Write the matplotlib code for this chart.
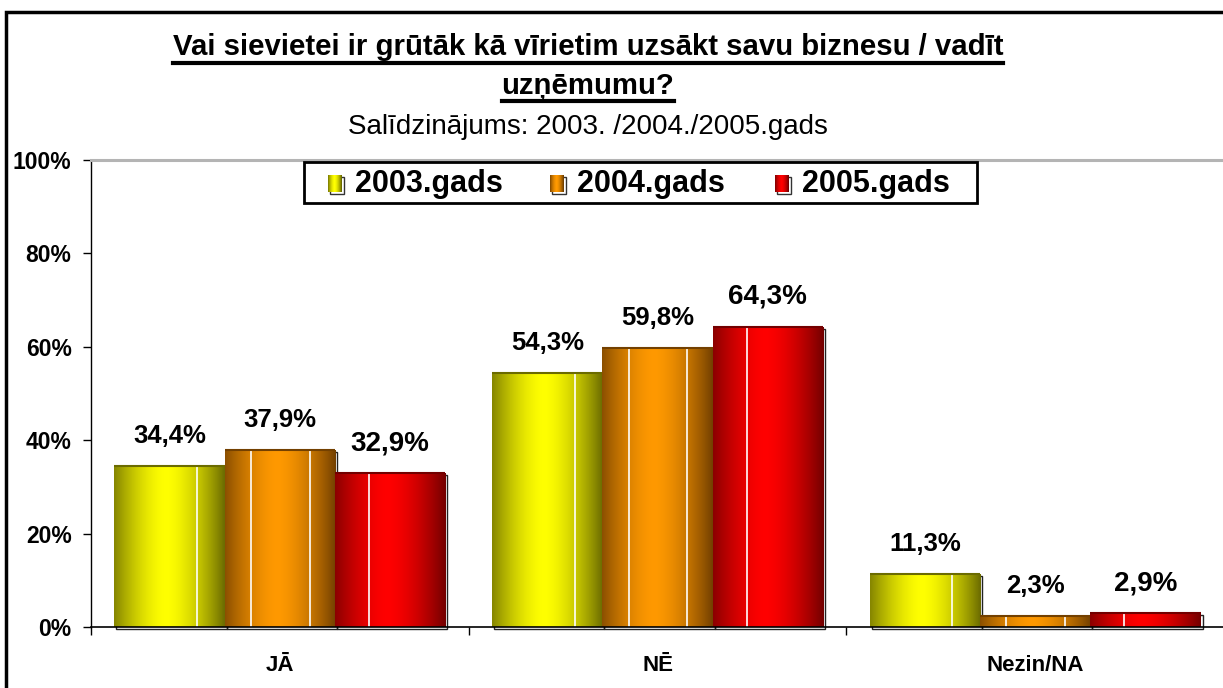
import numpy as np
import matplotlib
matplotlib.use("Agg")
import matplotlib.pyplot as plt
import matplotlib.transforms as mtransforms
from matplotlib.patches import Rectangle
from matplotlib.lines import Line2D

plt.rcParams['font.family'] = ['Liberation Sans', 'DejaVu Sans']

categories = ["JĀ", "NĒ", "Nezin/NA"]
series_names = ["2003.gads", "2004.gads", "2005.gads"]
values_2003 = [34.4, 54.3, 11.3]
values_2004 = [37.9, 59.8, 2.3]
values_2005 = [32.9, 64.3, 2.9]
series_values = [values_2003, values_2004, values_2005]
value_labels = [["34,4%", "54,3%", "11,3%"],
                ["37,9%", "59,8%", "2,3%"],
                ["32,9%", "64,3%", "2,9%"]]
ytick_vals = [0, 20, 40, 60, 80, 100]
ytick_labels = ["0%", "20%", "40%", "60%", "80%", "100%"]

title_line1 = "Vai sievietei ir grūtāk kā vīrietim uzsākt savu biznesu / vadīt"
title_line2 = "uzņēmumu?"
subtitle = "Salīdzinājums: 2003. /2004./2005.gads"

bright = [(1.0, 1.0, 0.0), (1.0, 0.6, 0.0), (1.0, 0.0, 0.0)]
dark = [(0.42, 0.42, 0.0), (0.45, 0.25, 0.0), (0.45, 0.0, 0.0)]
white_lines = [[0.75], [0.24, 0.77], [0.31]]

W, H = 1223, 688
fig = plt.figure(figsize=(W / 100, H / 100), dpi=100)
ax = fig.add_axes([91 / W, (H - 627) / H, (1224 - 91) / W, (627 - 160) / H])

n_cat = len(categories)
x = np.arange(n_cat)
bw = 0.292
offsets = [-bw, 0.0, bw]

def grad_colors(c_dark, c_bright, n=200):
    t = np.linspace(0, 1, n)
    f = 1 - (np.abs(t - 0.47) / 0.53) ** 1.6
    f = np.clip(f, 0, 1)
    cd = np.array(c_dark)
    cb = np.array(c_bright)
    return cd[None, :] + (cb - cd)[None, :] * f[:, None]

shadow_tr = mtransforms.offset_copy(ax.transData, fig=fig, x=2, y=-2, units='dots')

for s in range(3):
    vals = np.array(series_values[s]) / 100.0
    ax.bar(x + offsets[s], vals, bw, fill=False, edgecolor='#222222', linewidth=1.0,
           transform=shadow_tr, zorder=2, clip_on=False)
    bars = ax.bar(x + offsets[s], vals, bw, color=bright[s], linewidth=0, zorder=3)
    img = grad_colors(dark[s], bright[s])[None, :, :]
    for b in bars:
        x0, y0 = b.get_x(), b.get_y()
        w, h = b.get_width(), b.get_height()
        im = ax.imshow(img, extent=[x0, x0 + w, y0, y0 + h], aspect='auto',
                       zorder=4, interpolation='bilinear')
        im.set_clip_path(b)
        for wl in white_lines[s]:
            ax.plot([x0 + wl * w, x0 + wl * w], [y0, y0 + h], color='white',
                    linewidth=1.2, zorder=5, solid_capstyle='butt')
        ax.plot([x0, x0 + w], [y0 + h, y0 + h], color=dark[s], linewidth=1.5, zorder=5,
                solid_capstyle='butt')
    fs = 20 if s == 2 else 18.5
    for i, b in enumerate(bars):
        ax.annotate(value_labels[s][i], (b.get_x() + b.get_width() / 2, b.get_height()),
                    xytext=(0, 30), textcoords='offset pixels', ha='center', va='center',
                    fontsize=fs, fontweight='bold', zorder=6)

ax.set_xlim(-0.5, n_cat - 0.5)
ax.set_ylim(0, 1)

ax.set_yticks(np.array(ytick_vals) / 100.0)
ax.set_yticklabels(ytick_labels, fontsize=16.5, fontweight='bold')
ax.tick_params(axis='y', direction='out', length=6, width=1, pad=8)

ax.set_xticks(x)
ax.set_xticklabels(categories, fontsize=16, fontweight='bold')
ax.tick_params(axis='x', which='major', length=0, pad=20)
ax.set_xticks(np.arange(n_cat + 1) - 0.5, minor=True)
ax.tick_params(axis='x', which='minor', direction='out', length=6, width=1)

ax.spines['right'].set_visible(False)
ax.spines['top'].set_color('#b4b4b4')
ax.spines['top'].set_linewidth(2.2)
ax.spines['left'].set_linewidth(1.0)
ax.spines['bottom'].set_linewidth(1.2)
ax.spines['bottom'].set_zorder(7)

def fx(px):
    return px / W

def fy(py):
    return 1 - py / H

# legend box
fig.add_artist(Rectangle((fx(304), fy(203)), fx(977) - fx(304), fy(162) - fy(203),
                         transform=fig.transFigure, facecolor='white', edgecolor='black',
                         linewidth=2.0, zorder=20))
leg_x = [328, 550, 775]
for i in range(3):
    mx0, mw, my_top, mh = leg_x[i], 14, 175, 17
    fig.add_artist(Rectangle((fx(mx0 + 2), fy(my_top + mh + 2)), fx(mw), fy(0) - fy(mh),
                             transform=fig.transFigure, fill=False, edgecolor='#333333',
                             linewidth=1.0, zorder=21))
    cols = grad_colors(dark[i], bright[i], n=mw)
    for k in range(mw):
        fig.add_artist(Rectangle((fx(mx0 + k), fy(my_top + mh)), fx(1.2), fy(0) - fy(mh),
                                 transform=fig.transFigure, facecolor=cols[k],
                                 linewidth=0, zorder=22))
    fig.text(fx(mx0 + 27), fy(184), series_names[i], ha='left', va='center',
             fontsize=22, fontweight='bold', zorder=23)

# titles
cx = 588 / W
t1 = fig.text(cx, fy(47), title_line1, ha='center', va='center', fontsize=21.2,
              fontweight='bold')
t2 = fig.text(cx, fy(86), title_line2, ha='center', va='center', fontsize=21.2,
              fontweight='bold')
t3 = fig.text(cx, fy(127), subtitle, ha='center', va='center', fontsize=20)

# outer frame
fig.add_artist(Rectangle((6 / W, -0.05), 1.1, 1 - 12 / H + 0.05, transform=fig.transFigure,
                         fill=False, edgecolor='black', linewidth=2.5))

fig.canvas.draw()
renderer = fig.canvas.get_renderer()
for t, uy in [(t1, 63), (t2, 101)]:
    bb = t.get_window_extent(renderer)
    fig.add_artist(Line2D([bb.x0 / W, bb.x1 / W], [fy(uy), fy(uy)], transform=fig.transFigure,
                          color='black', linewidth=3.0))

fig.savefig("out.png", dpi=100)
